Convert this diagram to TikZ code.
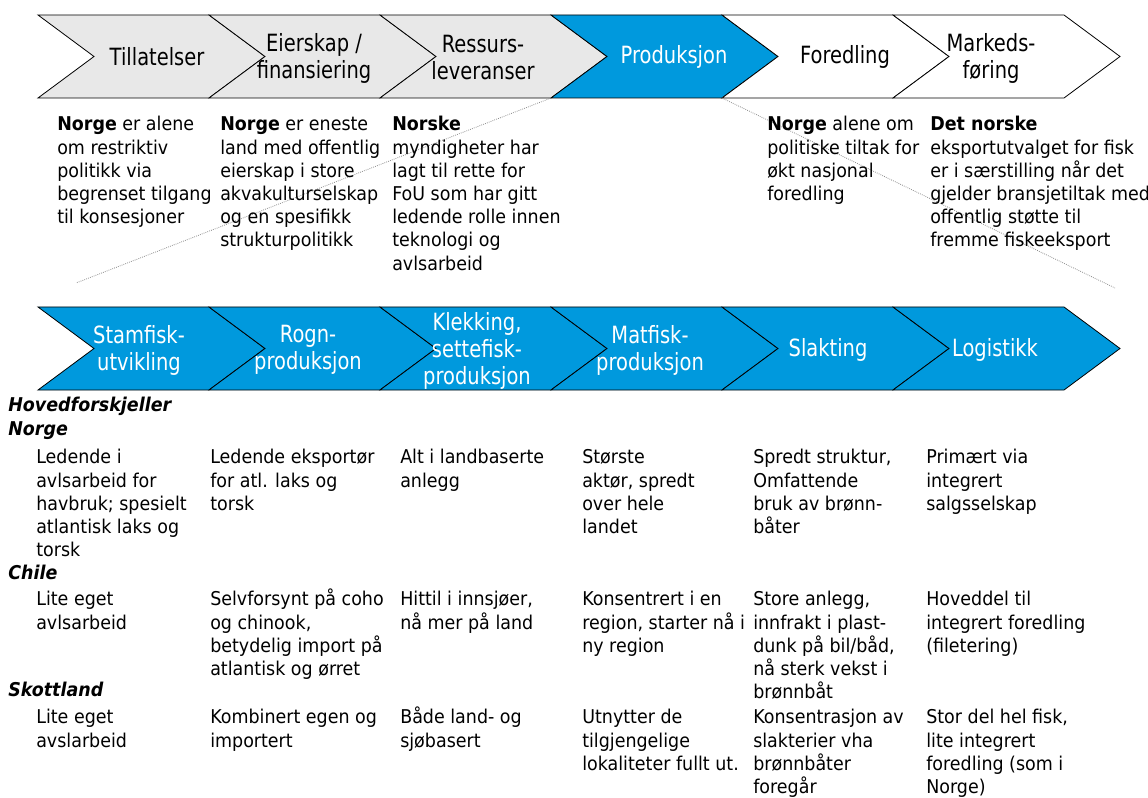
\documentclass[tikz,border=0pt]{standalone}
\usepackage{fontspec}
\setmainfont{DejaVu Sans}[FakeStretch=0.92]
\newfontfamily\chevfont{DejaVu Sans}[FakeStretch=0.82]
\definecolor{chevblue}{RGB}{0,153,221}
\definecolor{chevgray}{RGB}{232,232,232}
\definecolor{dotgray}{RGB}{140,140,140}
\newcommand\bodysize{\fontsize{14.25pt}{17.4pt}\selectfont}
\newcommand\chevsize{\chevfont\fontsize{17.8pt}{20.25pt}\selectfont}
\newcommand\st{\rule{0pt}{14pt}}
\begin{document}
\begin{tikzpicture}[x=0.75pt,y=-0.75pt,
  chevron/.pic={\path[pic actions] (0,0) -- (171,0) -- (227,41.5) -- (171,83) -- (0,83) -- (56,41.5) -- cycle;},
  cgray/.style={draw=black,line width=0.6pt,fill=chevgray},
  cblue/.style={draw=black,line width=0.6pt,fill=chevblue},
  cwhite/.style={draw=black,line width=0.6pt,fill=white},
  clab/.style={align=center,inner sep=0pt,font=\chevsize,text=black},
  clabw/.style={clab,text=white},
  body/.style={anchor=north west,inner sep=0pt,align=left,font=\bodysize},
  head/.style={body,font=\bodysize\bfseries\itshape},
  dotline/.style={draw=dotgray,line width=0.6pt,dash pattern=on 0.6pt off 0.9pt}
]
\useasboundingbox (0,0) rectangle (1148,798);

% top row chevrons
\pic[cgray]  at (38,15)  {chevron};
\pic[cgray]  at (209,15) {chevron};
\pic[cgray]  at (380,15) {chevron};
\pic[cblue]  at (551,15) {chevron};
\pic[cwhite] at (722,15) {chevron};
\pic[cwhite] at (893,15) {chevron};

% bottom row chevrons
\pic[cblue] at (38,307)  {chevron};
\pic[cblue] at (209,307) {chevron};
\pic[cblue] at (380,307) {chevron};
\pic[cblue] at (551,307) {chevron};
\pic[cblue] at (722,307) {chevron};
\pic[cblue] at (893,307) {chevron};

% dotted guide lines
\coordinate (pbl) at (551,98);
\coordinate (pbr) at (722,98);
\coordinate (lend) at (76,283);
\coordinate (rend) at (1115,288);
\draw[dotline] (pbl) -- (lend);
\draw[dotline] (pbr) -- (rend);

% top row labels
\node[clab]  (t1) at (157,57) {Tillatelser};
\node[clab]  (t2) at (314,58) {Eierskap /\\finansiering};
\node[clab]  (t3) at (483,58) {Ressurs-\\leveranser};
\node[clabw] (t4) at (674,57) {Produksjon};
\node[clab]  (t5) at (845,57) {Foredling};
\node[clab]  (t6) at (991,58) {Markeds-\\føring};

% bottom row labels
\node[clabw] (b1) at (139,350) {Stamfisk-\\utvikling};
\node[clabw] (b2) at (308,350) {Rogn-\\produksjon};
\node[clabw] (b3) at (477,351) {Klekking,\\settefisk-\\produksjon};
\node[clabw] (b4) at (650,350) {Matfisk-\\produksjon};
\node[clabw] (b5) at (828,350) {Slakting};
\node[clabw] (b6) at (995,350) {Logistikk};

% top texts
\node[body] (n1) at (57,112) {\st\textbf{Norge} er alene\\om restriktiv\\politikk via\\begrenset tilgang\\til konsesjoner};
\node[body] (n2) at (220,112) {\st\textbf{Norge} er eneste\\land med offentlig\\eierskap i store\\akvakulturselskap\\og en spesifikk\\strukturpolitikk};
\node[body] (n3) at (392,112) {\st\textbf{Norske}\\myndigheter har\\lagt til rette for\\FoU som har gitt\\ledende rolle innen\\teknologi og\\avlsarbeid};
\node[body] (n4) at (767,112) {\st\textbf{Norge} alene om\\politiske tiltak for\\økt nasjonal\\foredling};
\node[body] (n5) at (930,112) {\st\textbf{Det norske}\\eksportutvalget for fisk\\er i særstilling når det\\gjelder bransjetiltak med\\offentlig støtte til\\fremme fiskeeksport};

% headings
\node[head] (h0) at (8,393) {\st Hovedforskjeller};
\node[head] (h1) at (8,417) {\st Norge};
\node[head] (h2) at (8,561) {\st Chile};
\node[head] (h3) at (8,678) {\st Skottland};

% Norge row
\node[body] (no1) at (36,445)  {\st Ledende i\\avlsarbeid for\\havbruk; spesielt\\atlantisk laks og\\torsk};
\node[body] (no2) at (210,445) {\st Ledende eksportør\\for atl. laks og\\torsk};
\node[body] (no3) at (400,445) {\st Alt i landbaserte\\anlegg};
\node[body] (no4) at (582,445) {\st Største\\aktør, spredt\\over hele\\landet};
\node[body] (no5) at (753,445) {\st Spredt struktur,\\Omfattende\\bruk av brønn-\\båter};
\node[body] (no6) at (926,445) {\st Primært via\\integrert\\salgsselskap};

% Chile row
\node[body] (ch1) at (36,587)  {\st Lite eget\\avlsarbeid};
\node[body] (ch2) at (210,587) {\st Selvforsynt på coho\\og chinook,\\betydelig import på\\atlantisk og ørret};
\node[body] (ch3) at (400,587) {\st Hittil i innsjøer,\\nå mer på land};
\node[body] (ch4) at (582,587) {\st Konsentrert i en\\region, starter nå i\\ny region};
\node[body] (ch5) at (753,587) {\st Store anlegg,\\innfrakt i plast-\\dunk på bil/båd,\\nå sterk vekst i\\brønnbåt};
\node[body] (ch6) at (926,587) {\st Hoveddel til\\integrert foredling\\(filetering)};

% Skottland row
\node[body] (sk1) at (36,705)  {\st Lite eget\\avslarbeid};
\node[body] (sk2) at (210,705) {\st Kombinert egen og\\importert};
\node[body] (sk3) at (400,705) {\st Både land- og\\sjøbasert};
\node[body] (sk4) at (582,705) {\st Utnytter de\\tilgjengelige\\lokaliteter fullt ut.};
\node[body] (sk5) at (753,705) {\st Konsentrasjon av\\slakterier vha\\brønnbåter\\foregår};
\node[body] (sk6) at (926,705) {\st Stor del hel fisk,\\lite integrert\\foredling (som i\\Norge)};
\end{tikzpicture}
\end{document}
